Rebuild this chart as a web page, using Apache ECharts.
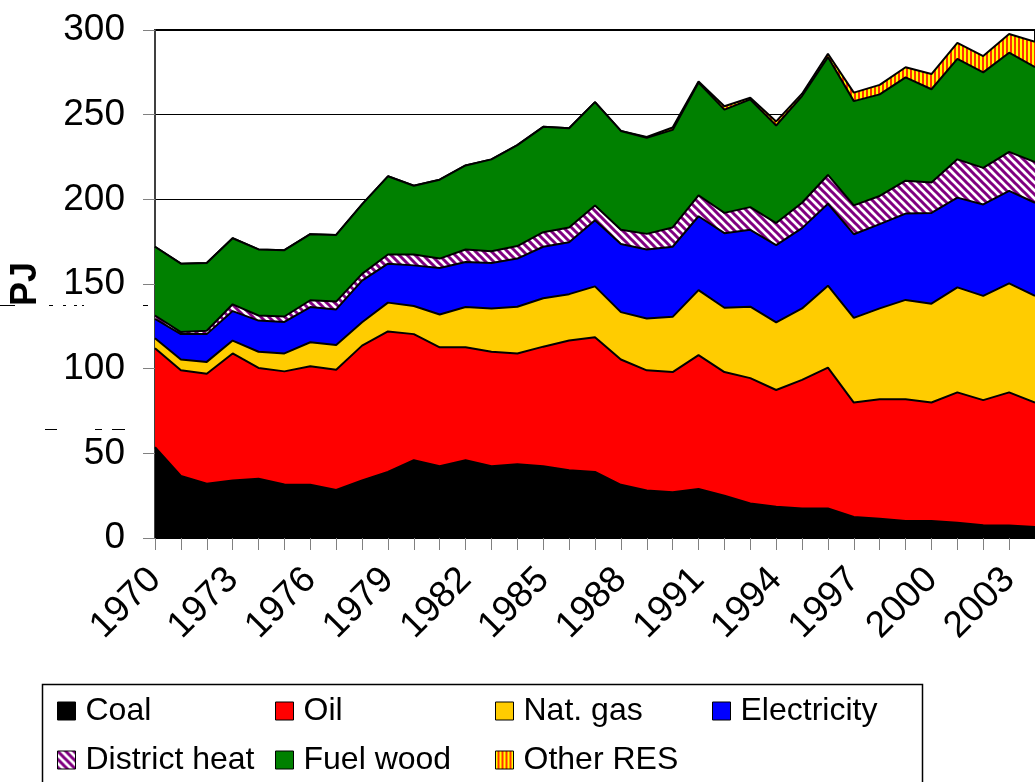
<!DOCTYPE html>
<html>
<head>
<meta charset="utf-8">
<script src="https://cdn.jsdelivr.net/npm/echarts@6/dist/echarts.min.js"></script>
<style>
html,body{margin:0;padding:0;background:#fff;}
#chart{width:1035px;height:782px;}
</style>
</head>
<body>
<div id="chart"></div>
<script>
// ---- data (PJ) ----
var years = ['1970','1971','1972','1973','1974','1975','1976','1977','1978','1979',
             '1980','1981','1982','1983','1984','1985','1986','1987','1988','1989',
             '1990','1991','1992','1993','1994','1995','1996','1997','1998','1999',
             '2000','2001','2002','2003','2004'];
var coal = [53.6,36.6,32,34,35,31.6,31.4,28.4,34,39,46,42.4,46,42.4,43.6,42.4,40,39,31.4,28,27,29,25,20.4,18.4,17.4,17.4,12.4,11.4,10,10,9,7.6,7.4,6.5];
var oil = [58.4,62.4,65,75,65.4,66.8,70,71,79.6,83,74.4,70.2,66.6,67.6,65.4,70.6,76.6,79.6,74,71,71,79,73,74,69,76,83.2,67.6,70.6,72,70,77,73.8,78.6,73.5];
var natGas = [6,6.4,7,7.6,9.6,10.6,14.2,14.6,13.8,17,16.6,19.4,23.8,25.6,27.6,28.6,27.4,30,28,30.6,32.6,38.4,38,42.2,40,42.2,48.4,50,53.6,58.6,58.4,62,61.6,64.4,63];
var electricity = [11.4,15,16.4,17.4,18.4,18.6,20.8,21,24.6,23,24,27.4,26.6,26.8,28.4,30.4,30.6,39,40.2,40.8,41.4,43.6,44,45.4,45.6,47.4,48.4,49.4,49.8,51,53.6,53,54,54.6,55];
var districtHeat = [2,1.2,2,4,3,3.2,4,4.6,4,5.4,6.4,5.6,7.4,7,7.4,8.6,8.8,8.8,8.4,9.2,11.4,12.4,12,13.4,13,15,17,17,16.6,19.4,18,22.6,21.6,23,24];
var fuelWood = [40.6,40.4,40,39,39,39.2,39,39.4,41,46.2,40.6,46.6,49.6,54.2,59.6,62.2,58.6,61,58.4,56.8,57.6,66.6,61,63.6,57.6,63,69.6,61.6,60,61,55,59.4,56.4,58.6,56];
var otherRES = [0,0,0,0,0,0,0,0,0,0,0,0,0,0,0,0,0,0,0,0.4,1.4,0.6,2,1,2.4,1.4,2,5,5.6,6,9,9.4,9.6,11,15];
var yTicks = [0,50,100,150,200,250,300];

// ---- patterns ----
function hatchCanvas(){
  var c=document.createElement('canvas'); c.width=8; c.height=8;
  var g=c.getContext('2d');
  g.fillStyle='#ffffff'; g.fillRect(0,0,8,8);
  g.strokeStyle='#800080'; g.lineWidth=3;
  g.beginPath();
  g.moveTo(-2,-2); g.lineTo(10,10);
  g.moveTo(-2,6); g.lineTo(2,10);
  g.moveTo(6,-2); g.lineTo(10,2);
  g.stroke();
  return c;
}
function stripeCanvas(){
  var c=document.createElement('canvas'); c.width=4; c.height=4;
  var g=c.getContext('2d');
  g.fillStyle='#ffff00'; g.fillRect(0,0,4,4);
  g.fillStyle='#ff3300'; g.fillRect(2,0,2,4);
  return c;
}
var hatchPat = {image: hatchCanvas(), repeat: 'repeat'};
var stripePat = {image: stripeCanvas(), repeat: 'repeat'};

var FONT = '"Liberation Sans", Arial, sans-serif';
var defs = [
  {name:'Coal', data:coal, color:'#000000'},
  {name:'Oil', data:oil, color:'#ff0000'},
  {name:'Nat. gas', data:natGas, color:'#ffcc00'},
  {name:'Electricity', data:electricity, color:'#0000ff'},
  {name:'District heat', data:districtHeat, color:hatchPat},
  {name:'Fuel wood', data:fuelWood, color:'#008000'},
  {name:'Other RES', data:otherRES, color:stripePat}
];

var series = defs.map(function(d,i){
  return {
    name:d.name, type:'line', stack:'total', data:d.data,
    symbol:'none', showSymbol:false, z: 10-i,
    lineStyle:{color:'#000', width:2},
    itemStyle:{color: (typeof d.color==='string'? d.color : '#800080')},
    areaStyle:{color:d.color, opacity:1},
    emphasis:{disabled:true}, silent:true
  };
});

var legendPos = [[57,695],[275,695],[495,695],[712,695],[57,744],[275,744],[495,744]];
var legends = defs.map(function(d,i){
  return {
    data:[{name:d.name, itemStyle:{color:d.color, borderColor:'#000', borderWidth:1}}],
    left:legendPos[i][0], top:legendPos[i][1], padding:0,
    icon:'rect', itemWidth:18, itemHeight:18, selectedMode:false,
    textStyle:{fontFamily:FONT, fontSize:32, color:'#000', lineHeight:32, padding:[0,0,0,5]}
  };
});

var option = {
  animation:false,
  backgroundColor:'#ffffff',
  grid:{left:155, top:30, right:-10, bottom:244, show:true, borderColor:'#000', borderWidth:2, backgroundColor:'transparent'},
  legend: legends,
  xAxis:{
    type:'category', data:years, boundaryGap:false,
    axisLine:{show:true, lineStyle:{color:'#000', width:1}},
    axisTick:{show:true, interval:0, length:12, lineStyle:{color:'#808080', width:1}},
    axisLabel:{interval:2, rotate:45, margin:36, fontFamily:FONT, fontSize:37, color:'#000'},
    splitLine:{show:false}
  },
  yAxis:{
    type:'value', min:yTicks[0], max:yTicks[yTicks.length-1], interval:50,
    name:'PJ', nameLocation:'middle', nameRotate:90, nameGap:111,
    nameTextStyle:{fontFamily:FONT, fontSize:36, fontWeight:'bold', color:'#000'},
    axisLine:{show:true, lineStyle:{color:'#404040', width:2}},
    axisTick:{show:true, length:12, lineStyle:{color:'#808080', width:1}},
    axisLabel:{margin:30, fontFamily:FONT, fontSize:37, color:'#000'},
    splitLine:{show:true, lineStyle:{color:'#000', width:1}}
  },
  series: series,
  graphic:[
    {type:'rect', z:-1, shape:{x:42.5, y:684.5, width:880, height:120}, style:{fill:'none', stroke:'#000', lineWidth:1.5}},
    {type:'line', shape:{x1:0,y1:305.5,x2:15,y2:305.5}, style:{stroke:'#000', lineWidth:1}},
    {type:'line', shape:{x1:49,y1:305.5,x2:53,y2:305.5}, style:{stroke:'#000', lineWidth:1}},
    {type:'line', shape:{x1:63,y1:305.5,x2:66,y2:305.5}, style:{stroke:'#000', lineWidth:1}},
    {type:'line', shape:{x1:74,y1:305.5,x2:77,y2:305.5}, style:{stroke:'#000', lineWidth:1}},
    {type:'line', shape:{x1:82,y1:305.5,x2:84,y2:305.5}, style:{stroke:'#000', lineWidth:1}},
    {type:'line', shape:{x1:143,y1:305.5,x2:148,y2:305.5}, style:{stroke:'#000', lineWidth:1}},
    {type:'line', shape:{x1:45,y1:429.5,x2:57,y2:429.5}, style:{stroke:'#000', lineWidth:1}},
    {type:'line', shape:{x1:95,y1:429.5,x2:102,y2:429.5}, style:{stroke:'#000', lineWidth:1}},
    {type:'line', shape:{x1:112,y1:429.5,x2:125,y2:429.5}, style:{stroke:'#000', lineWidth:1}}
  ]
};

var chart = echarts.init(document.getElementById('chart'), null, {renderer:'canvas'});
chart.setOption(option);
</script>
</body>
</html>
